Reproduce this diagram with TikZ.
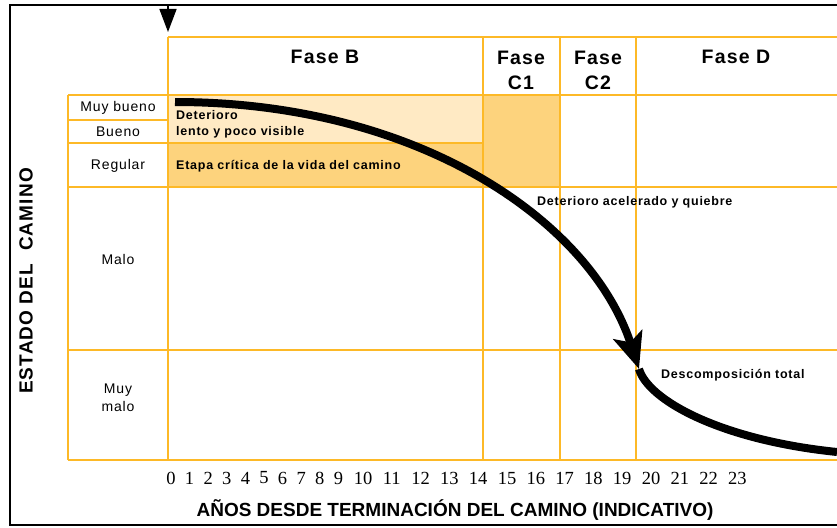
\documentclass[tikz,border=0pt]{standalone}
\usepackage{fontspec}
\setmainfont{Liberation Sans}
\newfontfamily\numfont{Liberation Serif}
\newfontfamily\spfont[LetterSpace=6]{Liberation Sans}
\usetikzlibrary{arrows.meta}
\definecolor{naranja}{RGB}{253,185,39}
\definecolor{crema}{RGB}{255,234,196}
\definecolor{ocre}{RGB}{253,211,125}
\tikzset{
  rejilla/.style={draw=naranja,line width=2pt},
  fase/.style={font=\spfont\bfseries\fontsize{19.5}{25}\selectfont,align=center},
  nivel/.style={font=\spfont\fontsize{14}{18}\selectfont,align=center},
  nota/.style={font=\spfont\bfseries\fontsize{12.5}{16}\selectfont,anchor=west,align=left,inner sep=0pt},
  anio/.style={font=\numfont\fontsize{18.5}{20}\selectfont},
  titulo/.style={font=\bfseries\fontsize{19}{22}\selectfont},
  curva/.style={line width=8pt,line cap=butt}
}
\begin{document}
\begin{tikzpicture}[x=1pt,y=-1pt]
    \useasboundingbox (0,0) rectangle (837,527);
    % marco
    \draw[line width=2.5pt] (837,5) -- (10,5) -- (10,525) -- (837,525);
    % zonas
    \fill[crema] (168,95) rectangle (483,143);
    \fill[ocre] (168,143) rectangle (483,187);
    \fill[ocre] (483,95) rectangle (560,187);
    % rejilla
    \draw[rejilla] (168,37) -- (837,37);
    \draw[rejilla] (68,95) -- (837,95);
    \draw[rejilla] (68,120) -- (168,120);
    \draw[rejilla] (68,143) -- (483,143);
    \draw[rejilla] (68,187) -- (837,187);
    \draw[rejilla] (68,350) -- (837,350);
    \draw[rejilla] (68,460) -- (837,460);
    \draw[rejilla] (68,95) -- (68,460);
    \foreach \x in {168,483,560,636}
        \draw[rejilla] (\x,37) -- (\x,460);
    % fases
    \node[fase] (faseB) at (325,57) {Fase B};
    \node[fase] (faseC1) at (521,70) {Fase\\C1};
    \node[fase] (faseC2) at (598,70) {Fase\\C2};
    \node[fase] (faseD) at (736,57) {Fase D};
    % estados
    \node[nivel] (mbueno) at (118,108) {Muy bueno};
    \node[nivel] (bueno) at (118,132) {Bueno};
    \node[nivel] (regular) at (118,166) {Regular};
    \node[nivel] (malo) at (118,259) {Malo};
    \node[nivel] (mmalo) at (118,398) {Muy\\malo};
    % notas
    \node[nota] (lento) at (176,124) {Deterioro\\lento y poco visible};
    \node[nota] (critica) at (176,166) {Etapa crítica de la vida del camino};
    \node[nota] (acelerado) at (537,202) {Deterioro acelerado y quiebre};
    \node[nota] (descomp) at (661,375) {Descomposición total};
    % años
    \foreach \n in {0,...,9}
        \node[anio] (a\n) at ({171+18.6*\n},478) {\n};
    \foreach \n in {10,...,23}
        \node[anio] (a\n) at ({363+28.8*(\n-10)},478) {\n};
    \node[titulo] (anios) at (455,510) {AÑOS DESDE TERMINACIÓN DEL CAMINO (INDICATIVO)};
    \node[titulo,font=\spfont\bfseries\fontsize{19}{22}\selectfont,rotate=90] (estado) at (26,281) {ESTADO DEL\ \ CAMINO};
    % curva
    \coordinate (cero) at (168,5);
    \draw[line width=1.5pt,-{Triangle[length=23pt,width=17pt]}] (cero) -- (168,32);
    \coordinate (inicio) at (175,102);
    \coordinate (quiebre) at (639,369);
    \coordinate (fin) at (837,452);
    \draw[curva,-{Stealth[length=36pt,width=30pt,inset=8pt]}] (inicio) .. controls (420,102) and (591,222) .. (quiebre);
    \draw[curva] (quiebre) .. controls (648,400) and (720,440) .. (fin);
\end{tikzpicture}
\end{document}
